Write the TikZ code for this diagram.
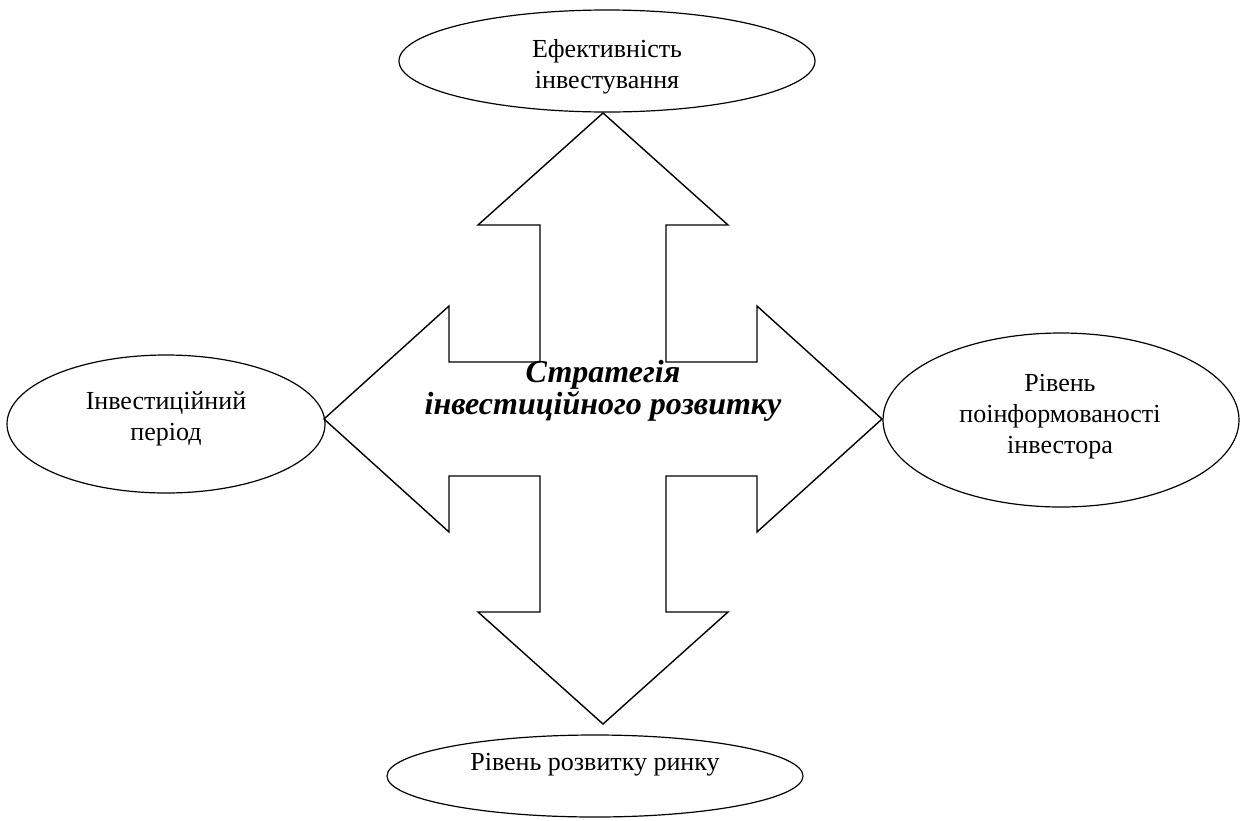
\documentclass[tikz,border=0pt]{standalone}
\usepackage{fontspec}
\setmainfont{Liberation Serif}
\usetikzlibrary{shapes.geometric}
\tikzset{
  ell/.style={draw, ellipse, line width=1.2pt, inner sep=0pt},
  lbl/.style={align=center, inner sep=0pt, font=\fontsize{26}{31}\selectfont},
  ctr/.style={align=center, inner sep=0pt, font=\fontsize{32}{32}\selectfont\bfseries\itshape},
  quad/.style={draw, line width=1.4pt, line join=miter}
}
\begin{document}
\begin{tikzpicture}[x=1pt,y=-1pt]
\useasboundingbox (0,0) rectangle (1243,820);
% four-way arrow
\draw[quad] (603,113) -- (728,225) -- (666,225) -- (666,362) -- (757,362) -- (757,306)
  -- (882,419) -- (757,532) -- (757,476) -- (666,476) -- (666,612) -- (728,612)
  -- (603,724) -- (478,612) -- (540,612) -- (540,476) -- (449,476) -- (449,532)
  -- (324,419) -- (449,306) -- (449,362) -- (540,362) -- (540,225) -- (478,225) -- cycle;
% ellipses
\node[ell, minimum width=416pt, minimum height=102pt] (top) at (607,61) {};
\node[ell, minimum width=318pt, minimum height=138pt] (left) at (166,424) {};
\node[ell, minimum width=356pt, minimum height=174pt] (right) at (1061,420) {};
\node[ell, minimum width=416pt, minimum height=82pt] (bottom) at (595,776) {};
% texts
\node[lbl] (topt) at (607,67) {Ефективність\\інвестування};
\node[lbl] (leftt) at (166,419) {Інвестиційний\\період};
\node[lbl] (rightt) at (1060,417) {Рівень\\поінформованості\\інвестора};
\node[lbl] (bottomt) at (595,765) {Рівень розвитку ринку};
\node[ctr] (centre) at (603,391) {Стратегія\\інвестиційного розвитку};
\end{tikzpicture}
\end{document}
